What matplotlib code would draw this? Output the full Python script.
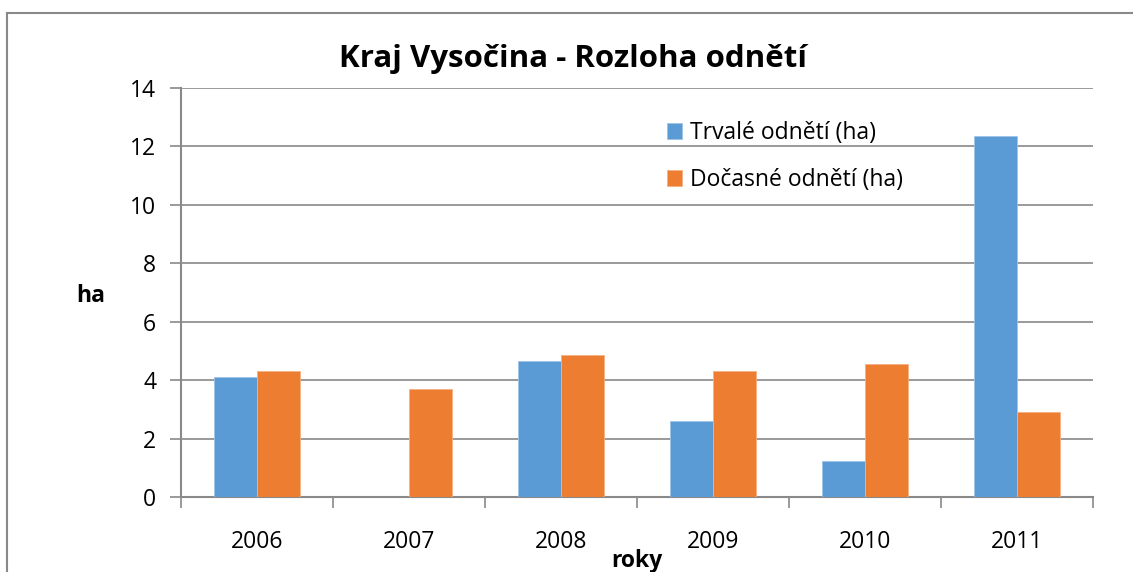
import matplotlib
matplotlib.use("Agg")
import matplotlib.pyplot as plt
import numpy as np
from matplotlib.lines import Line2D

years = ["2006", "2007", "2008", "2009", "2010", "2011"]
trvale = [4.11, 0.0, 4.66, 2.60, 1.23, 12.36]
docasne = [4.32, 3.70, 4.86, 4.32, 4.55, 2.91]
series_names = ["Trvalé odnětí (ha)", "Dočasné odnětí (ha)"]
yticks = [0, 2, 4, 6, 8, 10, 12, 14]

blue = "#5B9BD5"
orange = "#ED7D31"
grid_c = "#898989"

plt.rcParams['font.family'] = ['Open Sans', 'DejaVu Sans']

W, H = 1133, 572
fig = plt.figure(figsize=(W / 100, H / 100), dpi=100)

# outer chart border
fig.add_artist(Line2D([7 / W, 7 / W], [0, 1 - 13 / H], transform=fig.transFigure, color=grid_c, lw=1.5))
fig.add_artist(Line2D([7 / W, 1], [1 - 13 / H, 1 - 13 / H], transform=fig.transFigure, color=grid_c, lw=1.5))

left, right, top, bottom = 181, 1093, 88, 497
ax = fig.add_axes([left / W, 1 - bottom / H, (right - left) / W, (bottom - top) / H])

x = np.arange(len(years))
bw = 0.283
ax.bar(x - bw / 2, trvale, bw, color=blue, edgecolor="#9DC3E6", linewidth=0.6, label=series_names[0], zorder=3)
ax.bar(x + bw / 2, docasne, bw, color=orange, edgecolor="#F4B183", linewidth=0.6, label=series_names[1], zorder=3)

fs = 16.5
ax.set_xlim(-0.5, len(years) - 0.5)
ax.set_ylim(0, 14)
ax.set_yticks(yticks)
ax.set_yticklabels([str(v) for v in yticks], fontsize=fs)
ax.yaxis.grid(True, color=grid_c, lw=1.2, zorder=0)
ax.set_axisbelow(True)

ax.set_xticks(np.arange(-0.5, len(years), 1.0))
ax.set_xticklabels([])
ax.set_xticks(x, minor=True)
ax.set_xticklabels(years, minor=True, fontsize=fs)
ax.tick_params(axis='x', which='major', length=8, color=grid_c, width=1.2, direction='out')
ax.tick_params(axis='x', which='minor', length=0, pad=24)
ax.tick_params(axis='y', length=8, color=grid_c, width=1.2, direction='out', pad=10)

for s in ['top', 'right']:
    ax.spines[s].set_visible(False)
for s in ['left', 'bottom']:
    ax.spines[s].set_color(grid_c)
    ax.spines[s].set_linewidth(1.5)

fig.text(573 / W, 1 - 59 / H, "Kraj Vysočina - Rozloha odnětí", ha='center', va='center',
         fontsize=22.5, fontweight='bold')
fig.text(91 / W, 1 - 296 / H, "ha", ha='center', va='center', fontsize=fs, fontweight='bold')
fig.text(637 / W, 1 - 561 / H, "roky", ha='center', va='center', fontsize=fs, fontweight='bold')

ax.legend(loc='upper left', bbox_to_anchor=((658 - left) / (right - left), 1 - (112 - top) / (bottom - top)),
          frameon=False, fontsize=fs, handlelength=0.65, handleheight=0.65, handletextpad=0.35,
          labelspacing=1.0, borderaxespad=0)

fig.savefig("out.png", dpi=100)
